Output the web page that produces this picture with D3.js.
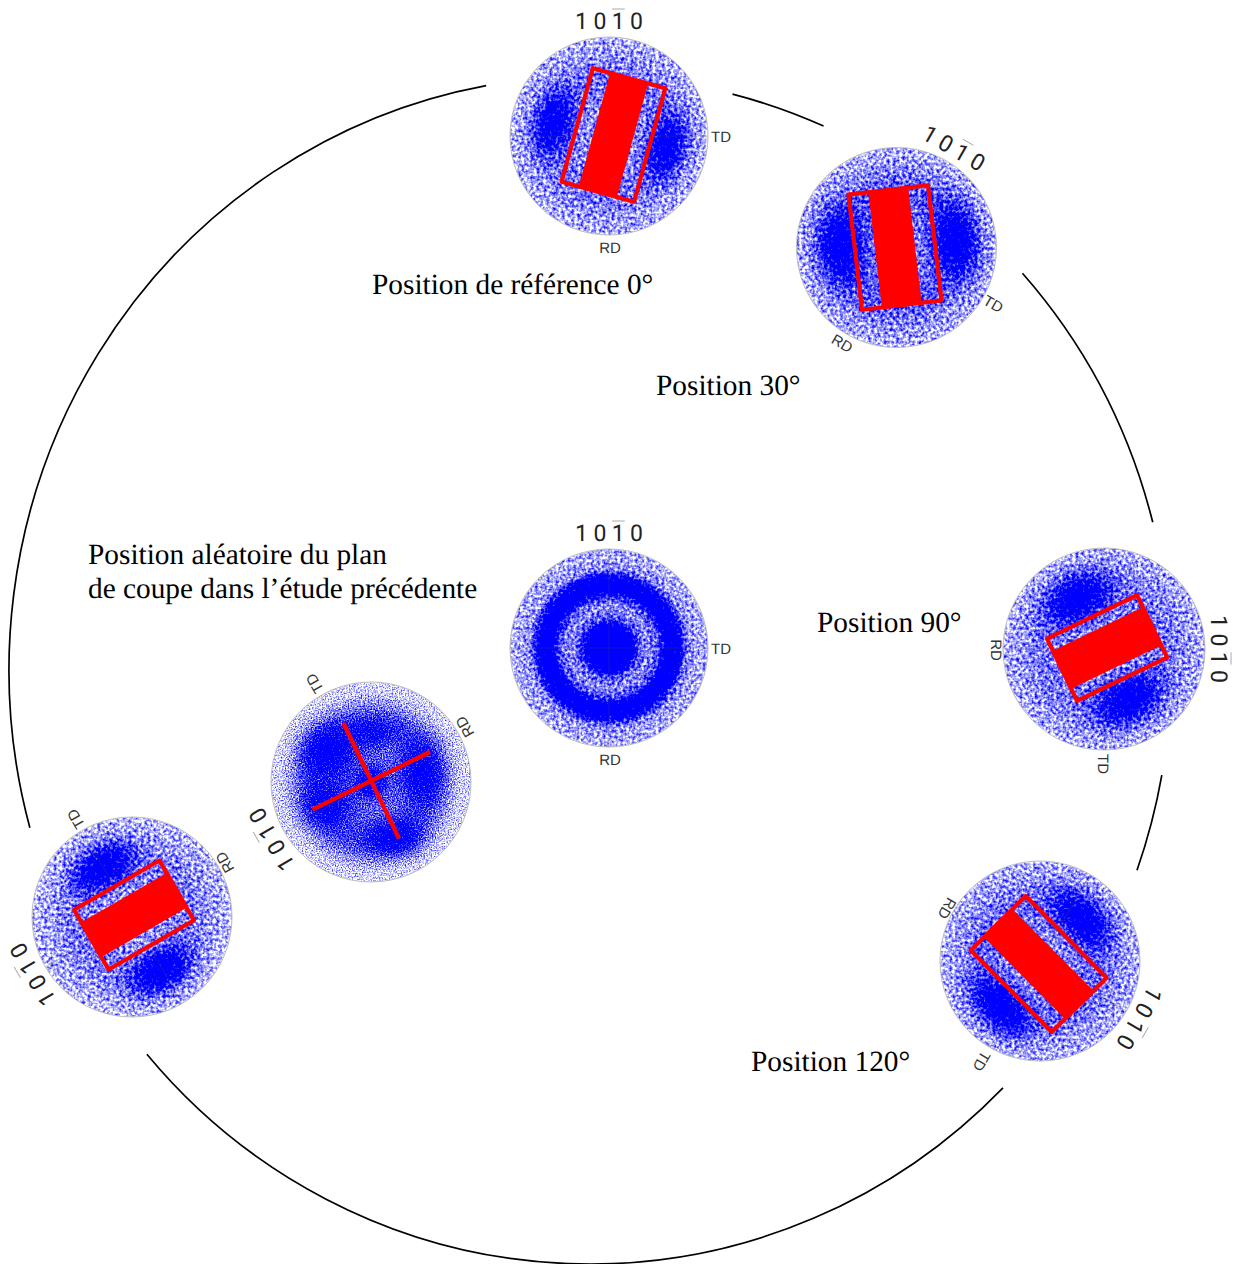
<!DOCTYPE html>
<html><head><meta charset="utf-8">
<style>html,body{margin:0;padding:0;background:#fff}svg{display:block}text{text-rendering:geometricPrecision}</style>
<script src="https://cdn.jsdelivr.net/npm/d3@7/dist/d3.min.js"></script>
</head><body><div id="chart"></div>
<script>
// ---------- data ----------
const figureKeys = ["p0","p30","rand","p90","p120","p240","cross"];
const figureRotation = [0,30,0,90,120,240,240];          // degrees
const millerDigits = ["1","0","1","0"];
const barredDigit = 2;
const axisLabels = ["TD","RD"];

// radial density of poles at r = 0, .1, ... 1
const profileP0    = [.27,.27,.27,.29,.31,.34,.34,.31,.27,.23,.20];
const profileP30   = [.31,.31,.31,.33,.36,.39,.39,.34,.28,.23,.20];
const profileRand  = [.98,.98,.88,.44,.28,.44,.88,.76,.30,.24,.22];
const profileP90   = [.27,.27,.27,.29,.31,.33,.33,.31,.27,.23,.20];
const profileP120  = [.29,.29,.29,.31,.34,.37,.37,.32,.27,.23,.20];
const profileP240  = [.24,.24,.25,.27,.30,.32,.32,.29,.24,.21,.18];
const profileCross = [.74,.56,.38,.34,.36,.40,.42,.36,.24,.14,.12];
const profiles = [profileP0,profileP30,profileRand,profileP90,profileP120,profileP240,profileCross];

// density lobes: [x, y, rx, ry, tilt deg, strength] in pole-figure units
const lobesP0    = [[-.56,-.14,.36,.60,15,.62],[.58,.11,.36,.60,15,.62]];
const lobesP30   = [[-.55,-.02,.44,.70,-7,.64],[.59,-.07,.44,.70,-7,.62]];
const lobesRand  = [];
const lobesP90   = [[-.26,-.50,.62,.42,-26,.68],[.24,.50,.62,.42,-26,.66]];
const lobesP120  = [[.42,-.43,.62,.38,45,.64],[-.40,.46,.62,.38,45,.68]];
const lobesP240  = [[-.29,-.50,.60,.38,-30,.70],[.29,.54,.60,.38,-30,.70]];
const lobesCross = [[-.42,-.30,.50,.50,0,.48],[.50,-.10,.40,.56,0,.42],[-.42,.22,.46,.40,0,.42],[.24,.56,.50,.34,0,.46],[.0,-.48,.46,.28,0,.30]];
const lobes = [lobesP0,lobesP30,lobesRand,lobesP90,lobesP120,lobesP240,lobesCross];

// red sampling rectangles: figure index, axis deg, length, breadth, band, offset
const rectFigure = [0,1,3,4,5];
const rectAxis   = [105.4,83.3,-25.8,45.3,-30];
const rectLength = [1.19,1.16,.99,1.15,.985];
const rectBreadth= [.76,.80,.685,.77,.69];
const rectBand   = [.40,.40,.42,.40,.40];
const rectShiftX = [.045,-.015,.03,-.013,.02];
const rectShiftY = [-.01,0,-.01,.03,-.02];

// red cross in the random figure
const crossAngle  = [64.3,-26.1];
const crossLength = [1.283,1.31];
const crossShift  = [.002,-.012];

// outer circular arrow segments, degrees clockwise from top
const arcStart = [254.6,14.2,48.1,100.2,134.7];
const arcEnd   = [349.7,23.7,75.6,109.7,229.7];

// captions
const captionLines = ["Position de référence 0°","Position 30°","Position 90°","Position 120°","Position aléatoire du plan","de coupe dans l’étude précédente"];

// ---------- layout ----------
const W=1233,H=1264;
const figCx=[609,896.5,609,1104,1040,132,371], figCy=[136,247.5,648,649,961,917,782], figR=[99,100,99,101,100,100,100];
const figFreq=[.32,.32,.34,.32,.32,.32,.70];
const figBlur=[.5,.5,.55,.5,.5,.5,.3];
const figGain=[2.0,2.0,1.9,2.0,2.0,2.0,2.2];
const tdPad=[0,0,0,3,4,1,1.5], rdPad=[0,-1.5,0,-4,-5,-4,-3];
const captionX=[372,656,817,751,88,88], captionY=[294,395,632,1071,564,598];
const ringCx=590,ringCy=670,ringA=581,ringB=594;
const blue="#0000ff",red="#ff0000";

const svg=d3.select("#chart").append("svg").attr("width",W).attr("height",H).attr("viewBox",[0,0,W,H]);
svg.append("rect").attr("width",W).attr("height",H).attr("fill","#fff");
const defs=svg.append("defs");

// soft lobe gradient
const falloff=[1,.93,.74,.5,.27,.11,.03,0];
const fallScale=d3.scaleLinear().domain([0,falloff.length-1]).range([0,100]);
defs.append("radialGradient").attr("id","lobe").selectAll("stop").data(falloff).join("stop")
  .attr("offset",(d,i)=>fallScale(i)+"%").attr("stop-color",blue).attr("stop-opacity",d=>d);

// outer ring arcs
const ringG=svg.append("g").attr("transform",`translate(${ringCx},${ringCy}) scale(${ringA/ringB},1)`);
const toRad=d3.scaleLinear().domain([0,360]).range([-Math.PI/2,1.5*Math.PI]);
arcStart.forEach((s,i)=>{
  const p=d3.path();
  p.arc(0,0,ringB,toRad(s),toRad(arcEnd[i]));
  ringG.append("path").attr("d",p.toString()).attr("fill","none").attr("stroke","#000")
    .attr("stroke-width",1.7).attr("vector-effect","non-scaling-stroke");
});

figureKeys.forEach((key,i)=>{
  const cx=figCx[i],cy=figCy[i],R=figR[i],rot=figureRotation[i];
  const u=d3.scaleLinear().domain([-1,1]).range([-R,R]);
  const len=d3.scaleLinear().domain([0,2]).range([0,2*R]);
  const g=svg.append("g").attr("class","fig "+key).attr("transform",`translate(${cx},${cy})`);

  defs.append("clipPath").attr("id","clip"+i).append("circle").attr("r",R);
  const prof=defs.append("radialGradient").attr("id","prof"+i);
  const pScale=d3.scaleLinear().domain([0,profiles[i].length-1]).range([0,100]);
  prof.selectAll("stop").data(profiles[i]).join("stop")
    .attr("offset",(d,j)=>pScale(j)+"%").attr("stop-color",blue).attr("stop-opacity",d=>d);

  const f=defs.append("filter").attr("id","speck"+i).attr("filterUnits","userSpaceOnUse")
    .attr("x",-R-4).attr("y",-R-4).attr("width",2*R+8).attr("height",2*R+8)
    .attr("color-interpolation-filters","sRGB");
  f.append("feTurbulence").attr("type","fractalNoise").attr("baseFrequency",figFreq[i])
    .attr("numOctaves",2).attr("seed",i*7+3).attr("result","n");
  f.append("feColorMatrix").attr("in","n").attr("type","matrix")
    .attr("values","0 0 0 0 0  0 0 0 0 0  0 0 0 0 0  1 0 0 0 0").attr("result","na");
  f.append("feComposite").attr("in","SourceGraphic").attr("in2","na").attr("operator","arithmetic")
    .attr("k1",0).attr("k2",1).attr("k3",1).attr("k4",-.56).attr("result","sum");
  f.append("feColorMatrix").attr("in","sum").attr("type","matrix")
    .attr("values",`0 0 0 0 0  0 0 0 0 0  0 0 0 0 1  0 0 0 ${figGain[i]} 0`).attr("result","col");
  f.append("feGaussianBlur").attr("in","col").attr("stdDeviation",figBlur[i]);

  const clipG=g.append("g").attr("clip-path",`url(#clip${i})`);
  const dens=clipG.append("g").attr("filter",`url(#speck${i})`);
  dens.append("circle").attr("r",R).attr("fill",`url(#prof${i})`);
  dens.selectAll("ellipse").data(lobes[i]).join("ellipse")
    .attr("rx",d=>len(d[2])).attr("ry",d=>len(d[3]))
    .attr("transform",d=>`translate(${u(d[0])},${u(d[1])}) rotate(${d[4]})`)
    .attr("fill","url(#lobe)").attr("fill-opacity",d=>d[5]);

  // rotated frame: crosshair, rim, labels
  const fr=g.append("g").attr("transform",`rotate(${rot})`);
  fr.append("line").attr("x1",u(-1)).attr("x2",u(1)).attr("stroke","#444").attr("stroke-opacity",.3).attr("stroke-width",1);
  fr.append("line").attr("y1",u(-1)).attr("y2",u(1)).attr("stroke","#444").attr("stroke-opacity",.3).attr("stroke-width",1);
  g.append("circle").attr("r",R).attr("fill","none").attr("stroke","#bbb").attr("stroke-width",1);

  const lab=g.append("g").attr("transform",`rotate(${rot})`).attr("font-family","'Liberation Sans',Arial,sans-serif");
  const digitX=d3.scalePoint().domain(d3.range(millerDigits.length)).range([-27.5,27.5]);
  lab.selectAll("text.d").data(millerDigits).join("text").attr("class","d")
    .attr("x",(d,j)=>digitX(j)).attr("y",-106.6).attr("text-anchor","middle")
    .attr("font-family","Roboto,'Liberation Sans',sans-serif")
    .attr("font-size",23).attr("fill","#222").text(d=>d);
  lab.append("line").attr("x1",digitX(barredDigit)-6).attr("x2",digitX(barredDigit)+6.5)
    .attr("y1",-127).attr("y2",-127).attr("stroke","#aaa").attr("stroke-width",1);
  lab.append("text").attr("x",102+tdPad[i]).attr("y",5.7).attr("font-size",15).attr("fill","#333").text(axisLabels[0]);
  lab.append("text").attr("x",1).attr("y",117+rdPad[i]).attr("text-anchor","middle").attr("font-size",15).attr("fill","#333").text(axisLabels[1]);
});

// red rectangles
rectFigure.forEach((fi,k)=>{
  const R=figR[fi];
  const len=d3.scaleLinear().domain([0,1]).range([0,R]);
  const g=svg.append("g").attr("transform",
    `translate(${figCx[fi]+len(rectShiftX[k])},${figCy[fi]+len(rectShiftY[k])}) rotate(${rectAxis[k]})`);
  const L=len(rectLength[k]),B=len(rectBreadth[k]),b=len(rectBand[k]);
  g.append("rect").attr("x",-L/2).attr("y",-b/2).attr("width",L).attr("height",b).attr("fill",red);
  g.append("rect").attr("x",-L/2).attr("y",-B/2).attr("width",L).attr("height",B)
    .attr("fill","none").attr("stroke",red).attr("stroke-width",4.2).attr("stroke-linejoin","round");
});

// red cross
const ci=figureKeys.indexOf("cross");
const crossG=svg.append("g").attr("transform",`translate(${figCx[ci]+figR[ci]*crossShift[0]},${figCy[ci]+figR[ci]*crossShift[1]})`);
crossG.selectAll("line").data(crossAngle).join("line")
  .attr("transform",d=>`rotate(${d})`)
  .attr("x1",(d,j)=>-crossLength[j]*figR[ci]/2).attr("x2",(d,j)=>crossLength[j]*figR[ci]/2)
  .attr("stroke",red).attr("stroke-width",4.4);

// captions
svg.selectAll("text.cap").data(captionLines).join("text").attr("class","cap")
  .attr("x",(d,i)=>captionX[i]).attr("y",(d,i)=>captionY[i])
  .attr("font-family","'Liberation Serif','Times New Roman',serif").attr("font-size",29.33).attr("fill","#000")
  .text(d=>d);
</script></body></html>
